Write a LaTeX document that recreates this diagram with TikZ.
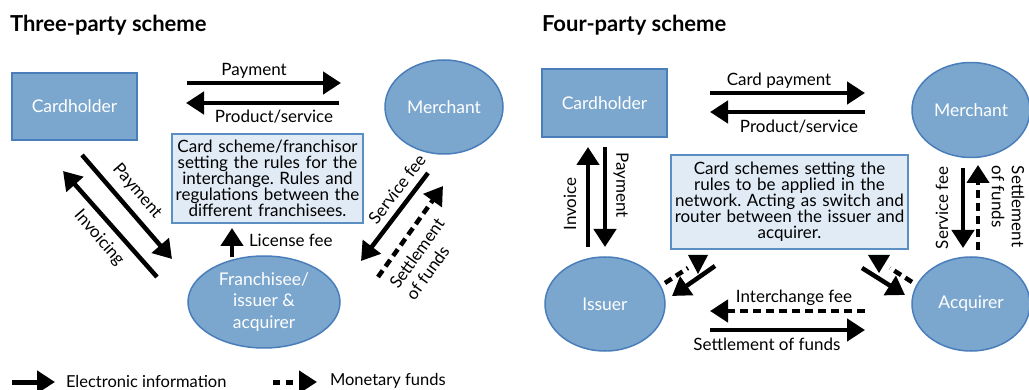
\documentclass[tikz,border=0pt]{standalone}
\usepackage{fontspec}
\setmainfont{Lato}
\usetikzlibrary{arrows.meta,shapes.geometric}
\definecolor{shapefill}{HTML}{7BA7CE}
\definecolor{shapeline}{HTML}{4A7EBB}
\definecolor{boxfill}{HTML}{E0EBF6}
\definecolor{boxline}{HTML}{5B8FC4}
\frenchspacing
\begin{document}
\begin{tikzpicture}[x=1pt,y=-1pt,
  every node/.style={inner sep=0pt, outer sep=0pt},
  lbl/.style={font=\fontsize{17}{20}\selectfont},
  lgd/.style={font=\fontsize{16.5}{19}\selectfont, anchor=west},
  ttl/.style={font=\fontsize{22}{24}\selectfont\bfseries, anchor=base west},
  wtxt/.style={text=white, font=\fontsize{17.5}{21.5}\selectfont, align=center},
  rectnode/.style={draw=shapeline, fill=shapefill, line width=1.5pt, minimum width=125pt, minimum height=67pt},
  ellnode/.style 2 args={ellipse, draw=shapeline, fill=shapefill, line width=1.5pt, minimum width=#1, minimum height=#2},
  infobox/.style={draw=boxline, fill=boxfill, line width=1.8pt, align=center, font=\fontsize{17}{16}\selectfont},
  ar/.style={line width=4.5pt, -{Triangle[length=18pt,width=22pt]}},
  dar/.style={ar, dash pattern=on 8pt off 5pt},
]
\useasboundingbox (0,0) rectangle (1029,390);

% ---------- Three-party scheme ----------
\node[ttl] (t3) at (10,32) {Three-party scheme};
\node[rectnode, wtxt] (ch3) at (74.5,106.5) {Cardholder};
\node[ellnode={118pt}{94pt}, wtxt] (me3) at (444,107) {Merchant};
\node[ellnode={152pt}{92pt}, wtxt] (fr3) at (264,302) {Franchisee/\\issuer \&\\acquirer};
\node[infobox, minimum width=191pt, minimum height=89pt, text width=189pt] (cs3) at (267.5,178.5)
  {Card scheme/franchisor\\setting the rules for the\\interchange. Rules and\\regulations between the\\different franchisees.};

\coordinate (p3a) at (187,83);  \coordinate (p3b) at (341,83);
\coordinate (s3a) at (339,103); \coordinate (s3b) at (186,103);
\draw[ar] (p3a) -- (p3b);
\draw[ar] (s3a) -- (s3b);
\node[lbl] (lp3) at (254,71) {Payment};
\node[lbl] (ls3) at (274,117) {Product/service};

\coordinate (d1a) at (82,155);  \coordinate (d1b) at (172,259);
\coordinate (d2a) at (157,277); \coordinate (d2b) at (63,171);
\draw[ar] (d1a) -- (d1b);
\draw[ar] (d2a) -- (d2b);
\node[lbl, rotate=-49] (lpd) at (137,191) {Payment};
\node[lbl, rotate=-49] (lin) at (99,238) {Invoicing};

\coordinate (lfa) at (232,257); \coordinate (lfb) at (232,228);
\draw[ar] (lfa) -- (lfb);
\node[lbl, anchor=west] (llf) at (249,240) {License fee};

\coordinate (sfa) at (428,173); \coordinate (sfb) at (361,261);
\draw[ar] (sfa) -- (sfb);
\node[lbl, rotate=52.6] (lsf) at (397,189) {Service fee};
\coordinate (sea) at (378,277); \coordinate (seb) at (443,186);
\draw[dar] (sea) -- (seb);
\node[lbl, rotate=54.5, align=left] (lse) at (425,259) {Settlement\\of funds};

% legend
\coordinate (lg1a) at (12,382); \coordinate (lg1b) at (55,382);
\draw[ar, line width=5pt] (lg1a) -- (lg1b);
\node[lgd] (lg1) at (66,381) {Electronic information};
\coordinate (lg2a) at (273,382); \coordinate (lg2b) at (317,382);
\draw[ar, line width=5pt, dash pattern=on 7pt off 6pt] (lg2a) -- (lg2b);
\node[lgd] (lg2) at (330,381) {Monetary funds};

% ---------- Four-party scheme ----------
\node[ttl] (t4) at (542,32) {Four-party scheme};
\node[rectnode, wtxt, minimum height=68pt] (ch4) at (604.5,103) {Cardholder};
\node[ellnode={118pt}{95pt}, wtxt] (me4) at (971,110) {Merchant};
\node[ellnode={120pt}{94pt}, wtxt] (is4) at (605,304) {Issuer};
\node[ellnode={118pt}{94pt}, wtxt] (ac4) at (971,304) {Acquirer};
\node[infobox, minimum width=237pt, minimum height=94pt, text width=235pt] (cs4) at (789.5,202)
  {Card schemes setting the\\rules to be applied in the\\network. Acting as switch and\\router between the issuer and\\acquirer.};

\coordinate (cpa) at (710,93);  \coordinate (cpb) at (865,93);
\coordinate (psa) at (865,112); \coordinate (psb) at (710,112);
\draw[ar] (cpa) -- (cpb);
\draw[ar] (psa) -- (psb);
\node[lbl] (lcp) at (779,81) {Card payment};
\node[lbl] (lps) at (799,127) {Product/service};

\coordinate (iva) at (588,247); \coordinate (ivb) at (588,147);
\coordinate (pya) at (605,147); \coordinate (pyb) at (605,247);
\draw[ar] (iva) -- (ivb);
\draw[ar] (pya) -- (pyb);
\node[lbl, rotate=90] (liv) at (570,204) {Invoice};
\node[lbl, rotate=-90] (lpy) at (621,185) {Payment};

\coordinate (sva) at (963,168); \coordinate (svb) at (963,248);
\coordinate (sda) at (978,250); \coordinate (sdb) at (978,165);
\draw[ar] (sva) -- (svb);
\draw[dar] (sda) -- (sdb);
\node[lbl, rotate=90] (lsv) at (942,208) {Service fee};
\node[lbl, rotate=-90, anchor=west, align=left] (lsd) at (1008,166) {Settlement\\of funds};

\coordinate (ifa) at (865,311); \coordinate (ifb) at (710,311);
\coordinate (sta) at (710,330); \coordinate (stb) at (865,330);
\draw[dar] (ifa) -- (ifb);
\draw[ar] (sta) -- (stb);
\node[lbl] (lif) at (794,298) {Interchange fee};
\node[lbl] (lst) at (767,344) {Settlement of funds};

% diagonal arrows near issuer
\coordinate (ia1) at (715,266); \coordinate (ia2) at (672,296);
\draw[ar] (ia1) -- (ia2);
\coordinate (id1) at (665,283); \coordinate (id2) at (688,268);
\draw[line width=4.5pt, dash pattern=on 8pt off 5pt] (id1) -- (id2);
\fill (688,255) -- (708,255) -- (698,274) -- cycle;
% diagonal arrows near acquirer
\coordinate (aa1) at (862,268); \coordinate (aa2) at (905,295);
\draw[ar] (aa1) -- (aa2);
\coordinate (ad1) at (912,282); \coordinate (ad2) at (890,268);
\draw[line width=4.5pt, dash pattern=on 8pt off 5pt] (ad1) -- (ad2);
\fill (868,255) -- (890,255) -- (879,273) -- cycle;
\end{tikzpicture}
\end{document}
